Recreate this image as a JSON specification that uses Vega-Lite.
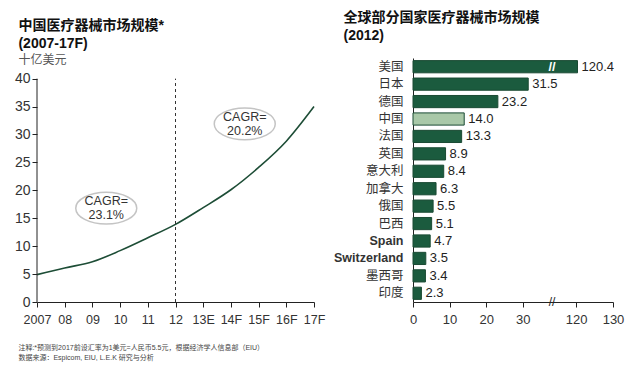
{
  "$schema": "https://vega.github.io/schema/vega-lite/v6.json",
  "padding": {"left": 14, "top": 11, "right": 4, "bottom": 4},
  "background": "white",
  "config": {
    "font": "Liberation Sans, Noto Sans CJK SC, sans-serif",
    "view": {"stroke": null},
    "axis": {"grid": false, "domainColor": "#222", "tickColor": "#222", "labelColor": "#333", "labelFont": "Liberation Sans, Noto Sans CJK SC, sans-serif", "labelFontSize": 12.5, "tickSize": 5, "labelOverlap": false},
    "title": {"anchor": "start", "frame": "bounds", "fontSize": 14, "fontWeight": "bold", "color": "#111", "lineHeight": 18, "subtitleFontSize": 12, "subtitleColor": "#555", "subtitlePadding": 4, "subtitleFont": "Noto Sans CJK SC, sans-serif"}
  },
  "title": {
    "text": ["注释:*预测到2017前设汇率为1美元=人民币5.5元，根据经济学人信息部（EIU）", "数据来源：Espicom, EIU, L.E.K 研究与分析"],
    "orient": "bottom", "anchor": "start", "frame": "bounds", "fontSize": 7, "fontWeight": "normal", "color": "#444", "lineHeight": 10, "offset": 18, "dx": 4
  },
  "datasets": {
    "market": [
      {"i": 0, "year": "2007", "v": 4.9},
      {"i": 1, "year": "08", "v": 6.1},
      {"i": 2, "year": "09", "v": 7.2},
      {"i": 3, "year": "10", "v": 9.2},
      {"i": 4, "year": "11", "v": 11.5},
      {"i": 5, "year": "12", "v": 13.9},
      {"i": 6, "year": "13E", "v": 16.9},
      {"i": 7, "year": "14F", "v": 20.1},
      {"i": 8, "year": "15F", "v": 24.1},
      {"i": 9, "year": "16F", "v": 28.8},
      {"i": 10, "year": "17F", "v": 35.0}
    ],
    "divider": [{"i": 5}],
    "yaxisline": [{"i": 0}],
    "cagr": [
      {"i": 2.5, "v": 16.8, "t": "CAGR=\n23.1%"},
      {"i": 7.5, "v": 31.9, "t": "CAGR=\n20.2%"}
    ],
    "countries": [
      {"country": "美国", "value": 120.4},
      {"country": "日本", "value": 31.5},
      {"country": "德国", "value": 23.2},
      {"country": "中国", "value": 14.0},
      {"country": "法国", "value": 13.3},
      {"country": "英国", "value": 8.9},
      {"country": "意大利", "value": 8.4},
      {"country": "加拿大", "value": 6.3},
      {"country": "俄国", "value": 5.5},
      {"country": "巴西", "value": 5.1},
      {"country": "Spain", "value": 4.7},
      {"country": "Switzerland", "value": 3.5},
      {"country": "墨西哥", "value": 3.4},
      {"country": "印度", "value": 2.3}
    ],
    "breaks": [{"b": 38, "country": "美国"}]
  },
  "spacing": 8,
  "hconcat": [
    {
      "width": 277,
      "height": 244,
      "title": {"text": ["中国医疗器械市场规模*", "(2007-17F)"], "subtitle": "十亿美元", "dx": 4, "offset": -8},
      "layer": [
        {
          "data": {"name": "market"},
          "mark": {"type": "line", "interpolate": "monotone", "color": "#1d4d36", "strokeWidth": 1.6},
          "encoding": {
            "x": {"field": "i", "type": "quantitative", "scale": {"domain": [0, 10], "nice": false},
              "axis": {"values": [0, 1, 2, 3, 4, 5, 6, 7, 8, 9, 10], "tickCount": 30, "labelExpr": "['2007','08','09','10','11','12','13E','14F','15F','16F','17F'][datum.value]", "title": null, "labelPadding": 6, "labelFlush": false, "labelFontSize": 12.5, "labelOverlap": false, "labelBound": false}},
            "y": {"field": "v", "type": "quantitative", "scale": {"domain": [0, 43.7], "nice": false, "zero": true},
              "axis": {"values": [0, 5, 10, 15, 20, 25, 30, 35, 40], "tickCount": 30, "title": null, "labelFontSize": 14, "labelPadding": 2, "domain": false, "labelOverlap": false}}
          }
        },
        {
          "data": {"name": "yaxisline"},
          "mark": {"type": "rule", "color": "#222", "strokeWidth": 1},
          "encoding": {
            "x": {"field": "i", "type": "quantitative"},
            "y": {"datum": 0, "type": "quantitative"},
            "y2": {"datum": 40}
          }
        },
        {
          "data": {"name": "divider"},
          "mark": {"type": "rule", "strokeDash": [3, 3], "color": "#333", "strokeWidth": 1},
          "encoding": {
            "x": {"field": "i", "type": "quantitative"},
            "y": {"datum": 0, "type": "quantitative"},
            "y2": {"datum": 40}
          }
        },
        {
          "data": {"name": "cagr"},
          "mark": {"type": "point", "shape": "M-1,0A1,0.52,0,1,1,1,0A1,0.52,0,1,1,-1,0Z", "size": 3721, "filled": true, "fill": "white", "stroke": "#c4c4c4", "strokeWidth": 1.5, "opacity": 1},
          "encoding": {
            "x": {"field": "i", "type": "quantitative"},
            "y": {"field": "v", "type": "quantitative"}
          }
        },
        {
          "data": {"name": "cagr"},
          "mark": {"type": "text", "lineBreak": "\n", "fontSize": 12.5, "color": "#333", "lineHeight": 14, "baseline": "middle", "dy": -7},
          "encoding": {
            "x": {"field": "i", "type": "quantitative"},
            "y": {"field": "v", "type": "quantitative"},
            "text": {"field": "t"}
          }
        }
      ]
    },
    {
      "width": 200,
      "height": 244,
      "title": {"text": ["全球部分国家医疗器械市场规模", "(2012)"], "dx": 10, "offset": 15},
      "encoding": {
        "y": {"field": "country", "type": "nominal", "sort": null,
          "scale": {"paddingInner": 0.3, "paddingOuter": 0.15},
          "axis": {"title": null, "ticks": false, "labelPadding": 10, "labelFontSize": 12.5, "labelColor": "#333", "labelOverlap": false,
            "labelFontWeight": {"condition": {"test": "datum.value === 'Spain' || datum.value === 'Switzerland'", "value": "bold"}, "value": "normal"}}}
      },
      "layer": [
        {
          "data": {"name": "countries"},
          "mark": {"type": "bar", "stroke": "#1a4a33", "strokeWidth": 1},
          "encoding": {
            "x": {"field": "value", "type": "quantitative",
              "scale": {"domain": [0, 38, 113.5, 130], "range": [0, 139, 139, 200], "nice": false, "zero": false},
              "axis": {"values": [0, 10, 20, 30, 120, 130], "tickCount": 30, "title": null, "labelPadding": 6, "labelFontSize": 13, "labelOverlap": false, "labelFlush": false}},
            "fill": {"condition": {"test": "datum.country === '中国'", "value": "#a9c8a8"}, "value": "#1b5b3e"}
          }
        },
        {
          "data": {"name": "countries"},
          "mark": {"type": "text", "align": "left", "dx": 4, "fontSize": 13, "color": "#222"},
          "encoding": {
            "x": {"field": "value", "type": "quantitative"},
            "text": {"field": "value", "type": "quantitative", "format": ".1f"}
          }
        },
        {
          "data": {"name": "breaks"},
          "mark": {"type": "text", "fontSize": 13, "color": "white", "fontWeight": "bold"},
          "encoding": {
            "x": {"field": "b", "type": "quantitative"},
            "text": {"value": "//"}
          }
        },
        {
          "data": {"name": "breaks"},
          "mark": {"type": "text", "fontSize": 12, "color": "#222"},
          "encoding": {
            "x": {"field": "b", "type": "quantitative"},
            "y": {"value": "height"},
            "text": {"value": "//"}
          }
        }
      ]
    }
  ]
}
